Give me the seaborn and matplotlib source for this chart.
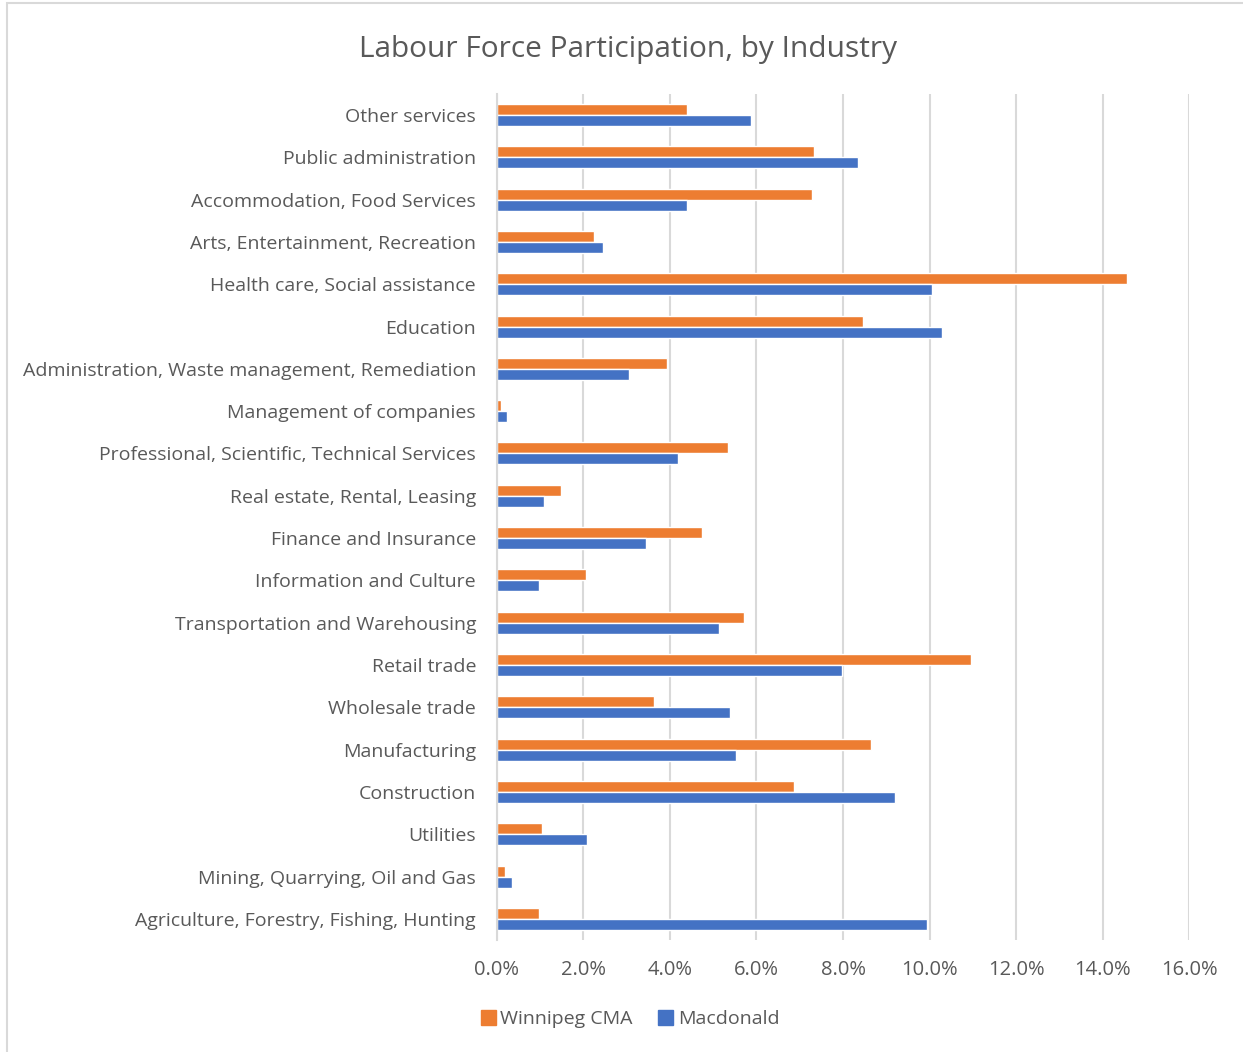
import pandas as pd
import matplotlib.pyplot as plt
import seaborn as sns
from matplotlib.patches import Rectangle
from matplotlib.ticker import FuncFormatter

industries = [
    "Other services",
    "Public administration",
    "Accommodation, Food Services",
    "Arts, Entertainment, Recreation",
    "Health care, Social assistance",
    "Education",
    "Administration, Waste management, Remediation",
    "Management of companies",
    "Professional, Scientific, Technical Services",
    "Real estate, Rental, Leasing",
    "Finance and Insurance",
    "Information and Culture",
    "Transportation and Warehousing",
    "Retail trade",
    "Wholesale trade",
    "Manufacturing",
    "Construction",
    "Utilities",
    "Mining, Quarrying, Oil and Gas",
    "Agriculture, Forestry, Fishing, Hunting",
]
winnipeg = [4.40, 7.33, 7.29, 2.24, 14.57, 8.47, 3.93, 0.10, 5.35, 1.48,
            4.75, 2.05, 5.71, 10.95, 3.63, 8.64, 6.86, 1.04, 0.19, 0.98]
macdonald = [5.88, 8.34, 4.40, 2.45, 10.05, 10.30, 3.06, 0.24, 4.18, 1.09,
             3.44, 0.98, 5.14, 7.98, 5.38, 5.52, 9.21, 2.08, 0.35, 9.95]
series = ["Winnipeg CMA", "Macdonald"]
colors = ["#ED7D31", "#4472C4"]
x_ticks = [0, 2, 4, 6, 8, 10, 12, 14, 16]

df = pd.DataFrame({
    "industry": industries * 2,
    "series": [series[0]] * len(industries) + [series[1]] * len(industries),
    "value": winnipeg + macdonald,
})

sns.set_style("white")
plt.rcParams['font.family'] = ['Open Sans', 'DejaVu Sans']
text_color = "#595959"
grid_color = "#D9D9D9"

fig = plt.figure(figsize=(12.43, 10.52), dpi=100)
ax = fig.add_axes([0.3998, 0.1064, 0.5568, 0.8044])

sns.barplot(data=df, y="industry", x="value", hue="series", order=industries,
            hue_order=series, palette=colors, orient="h", width=0.52,
            saturation=1, ax=ax, legend=False)

ax.set_xlim(0, 16)
ax.set_xticks(x_ticks)
ax.xaxis.set_major_formatter(FuncFormatter(lambda v, p: f"{v:.1f}%"))
ax.grid(axis="x", color=grid_color, linewidth=1.5)
ax.set_axisbelow(True)
for s in ["top", "right", "bottom"]:
    ax.spines[s].set_visible(False)
ax.spines["left"].set_color(grid_color)
ax.spines["left"].set_linewidth(1.5)
ax.tick_params(axis="both", length=0, colors=text_color)
ax.tick_params(axis="x", pad=14, labelsize=14.5)
ax.tick_params(axis="y", pad=15, labelsize=14)
ax.set_xlabel("")
ax.set_ylabel("")

fig.suptitle("Labour Force Participation, by Industry", x=0.505, y=0.967,
             fontsize=21.5, color=text_color)

handles = [Rectangle((0, 0), 1, 1, color=c) for c in colors]
fig.legend(handles, series, loc="center", bbox_to_anchor=(0.507, 0.031),
           ncol=2, frameon=False, fontsize=14, labelcolor=text_color,
           handlelength=0.75, handleheight=0.75, handletextpad=0.25,
           columnspacing=1.3)

# chart border (cropped on right and bottom in the reference)
fig.patches.append(Rectangle((7 / 1243, -0.01), 1.1, 1 - 3 / 1052 + 0.01,
                             transform=fig.transFigure, fill=False,
                             edgecolor="#D9D9D9", linewidth=1.5))

fig.savefig("out.png", dpi=100)
